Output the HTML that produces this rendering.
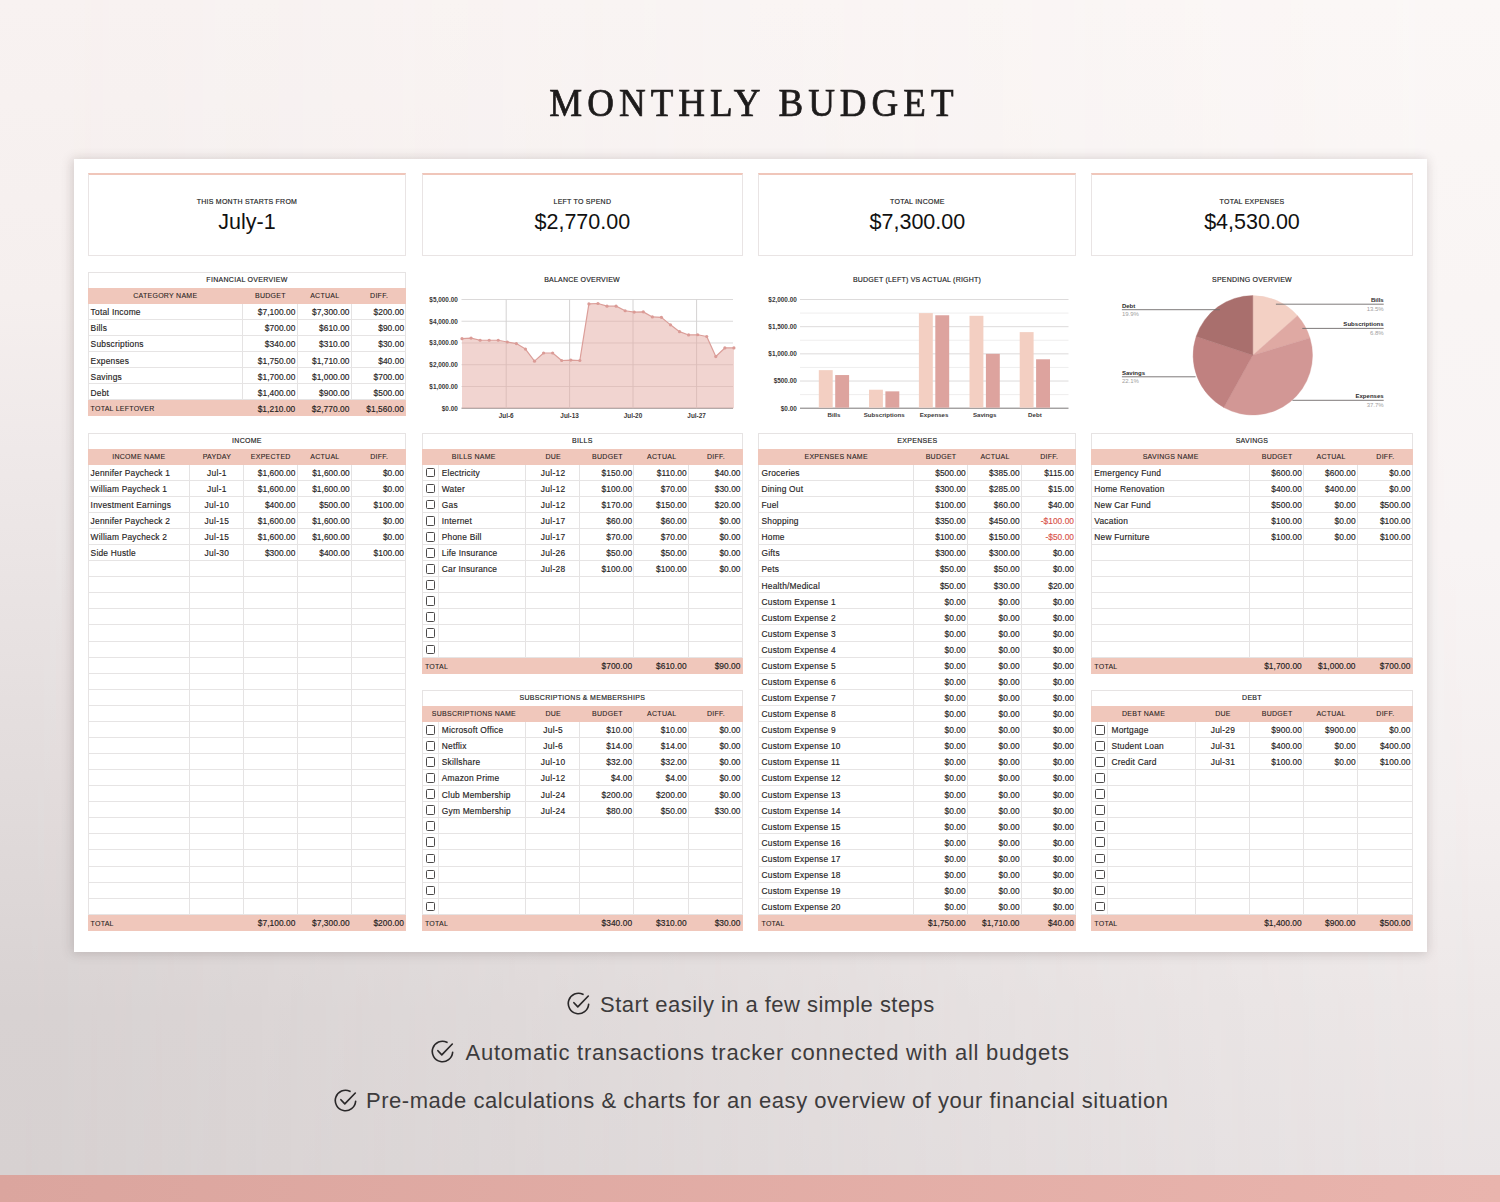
<!DOCTYPE html>
<html lang="en"><head><meta charset="utf-8"><title>Monthly Budget</title>
<style>
*{box-sizing:border-box;margin:0;padding:0}
html,body{width:1500px;height:1202px;overflow:hidden}
body{position:relative;font-family:"Liberation Sans",sans-serif;color:#1c1a1a;
 background:linear-gradient(180deg,#f8f2f1 0px,#f5efee 300px,#efe9e9 450px,#e9e3e3 600px,#ddd7d7 900px,#d8d2d2 1010px,#d7d1d1 1175px);}
.bgr{position:absolute;left:0;top:0;width:1500px;height:1202px;background:linear-gradient(180deg,#fbf7f6 0px,#f9f5f4 300px,#f8f4f4 550px,#f4efef 800px,#ede8e8 1000px,#e9e4e5 1175px);-webkit-mask-image:linear-gradient(90deg,rgba(0,0,0,0) 0%,#000 100%);mask-image:linear-gradient(90deg,rgba(0,0,0,0) 0%,#000 100%)}
.band{position:absolute;left:0;top:1175px;width:1500px;height:27px;background:linear-gradient(90deg,#dba59e,#e9b4ad)}
h1{position:absolute;left:0;top:79px;width:1500px;text-align:center;font-family:"Liberation Serif",serif;font-weight:400;
 font-size:37px;line-height:50px;letter-spacing:5px;padding-left:7.8px;color:#1d1b1b;-webkit-text-stroke:0.7px #1d1b1b;transform:scaleY(1.06);transform-origin:50% 37.5px}
.sheet{position:absolute;left:74px;top:159px;width:1353px;height:792.5px;background:#fff;
 box-shadow:-1.5px 1px 10px 1px rgba(100,85,85,.24)}
.abs{position:absolute}
.card{position:absolute;top:173px;height:83px;background:#fff;border:1px solid #e9e4e4;border-top:2px solid #f0c6ba;text-align:center}
.card .l{position:absolute;left:0;right:0;top:23.3px;font-size:7px;line-height:8px;letter-spacing:.25px;color:#222;-webkit-text-stroke:.15px #222}
.card .v{position:absolute;left:0;right:0;top:34.3px;font-size:21.5px;line-height:26px;color:#111}
.foot{position:absolute;font-size:22px;line-height:30px;color:#3d3b3c;white-space:nowrap}
svg{display:block}

.tbl{position:absolute;background:#fff;font-size:8.4px}
.fr{position:absolute;left:0;top:0;right:0;bottom:0;border:1px solid #e6e3e3;pointer-events:none}
.tr{position:absolute;left:0;right:0;display:flex;border-bottom:1px solid #e6e4e4;white-space:nowrap;overflow:hidden}
.tt{justify-content:center;align-items:center;font-size:7px;letter-spacing:.3px;color:#222;border-bottom:none;-webkit-text-stroke:.15px #222;padding-bottom:0}
.th{background:#f0c7bb;border-bottom:none;font-size:7px;letter-spacing:.27px;color:#2a2322;-webkit-text-stroke:.09px #2a2322}
.th i{font-style:normal;display:flex;align-items:center;justify-content:center;height:100%;flex:none;padding-bottom:0}
.c{font-weight:400;display:flex;align-items:center;height:100%;flex:none;padding-top:1.6px;color:#1f1d1d;letter-spacing:.04px;-webkit-text-stroke:.15px #1f1d1d}
.c.l{justify-content:flex-start;padding-left:3.1px;letter-spacing:.22px}
.c.m{justify-content:center;letter-spacing:.3px}
.c.r{justify-content:flex-end;padding-right:2.3px}
.c.neg{color:#d9544c;-webkit-text-stroke:.15px #d9544c}
.ck{justify-content:center;padding-left:.8px;padding-top:.6px}
.ck u{display:block;width:9.6px;height:9.6px;border:1px solid #4c4a4a;border-radius:1.5px;text-decoration:none;background:#fff}
.vl{position:absolute;width:1px;background:#e5e3e3}
.v0{background:#eae8e8}
.tot{background:#f0c7bb;border-bottom:none;padding-bottom:.8px}
.tot .c.r{padding-right:2.4px}
.tot .tl{font-size:7px;letter-spacing:.25px;-webkit-text-stroke:.08px #1f1d1d}

.ct{position:absolute;width:300px;text-align:center;font-size:7px;letter-spacing:.22px;color:#222;-webkit-text-stroke:.15px #222;display:flex;align-items:center;justify-content:center}
</style></head>
<body>
<div class="bgr"></div>
<h1>MONTHLY BUDGET</h1>
<div class="sheet"></div>
<div class="card" style="left:87.5px;width:318.9px"><div class="l">THIS MONTH STARTS FROM</div><div class="v">July-1</div></div>
<div class="card" style="left:421.8px;width:321.1px"><div class="l">LEFT TO SPEND</div><div class="v">$2,770.00</div></div>
<div class="card" style="left:758.4px;width:318.0px"><div class="l">TOTAL INCOME</div><div class="v">$7,300.00</div></div>
<div class="card" style="left:1091.2px;width:321.6px"><div class="l">TOTAL EXPENSES</div><div class="v">$4,530.00</div></div>
<div class="tbl" style="left:87.5px;top:271.8px;width:318.9px;height:144.68px"><div class="fr"></div>
<div class="vl" style="left:154.6px;top:32.15px;height:96.45px"></div>
<div class="vl" style="left:209.2px;top:32.15px;height:96.45px"></div>
<div class="vl" style="left:263.4px;top:32.15px;height:96.45px"></div>
<div class="tr tt" style="top:0;height:16.075px"><span>FINANCIAL OVERVIEW</span></div>
<div class="tr th" style="top:16.075px;height:16.075px">
<i style="width:155.6px">CATEGORY NAME</i>
<i style="width:54.6px">BUDGET</i>
<i style="width:54.2px">ACTUAL</i>
<i style="width:54.5px">DIFF.</i>
</div>
<div class="tr" style="top:32.15px;height:16.075px">
<b class="c l" style="width:155.6px">Total Income</b>
<b class="c r" style="width:54.6px">$7,100.00</b>
<b class="c r" style="width:54.2px">$7,300.00</b>
<b class="c r" style="width:54.5px">$200.00</b>
</div>
<div class="tr" style="top:48.22px;height:16.075px">
<b class="c l" style="width:155.6px">Bills</b>
<b class="c r" style="width:54.6px">$700.00</b>
<b class="c r" style="width:54.2px">$610.00</b>
<b class="c r" style="width:54.5px">$90.00</b>
</div>
<div class="tr" style="top:64.3px;height:16.075px">
<b class="c l" style="width:155.6px">Subscriptions</b>
<b class="c r" style="width:54.6px">$340.00</b>
<b class="c r" style="width:54.2px">$310.00</b>
<b class="c r" style="width:54.5px">$30.00</b>
</div>
<div class="tr" style="top:80.38px;height:16.075px">
<b class="c l" style="width:155.6px">Expenses</b>
<b class="c r" style="width:54.6px">$1,750.00</b>
<b class="c r" style="width:54.2px">$1,710.00</b>
<b class="c r" style="width:54.5px">$40.00</b>
</div>
<div class="tr" style="top:96.45px;height:16.075px">
<b class="c l" style="width:155.6px">Savings</b>
<b class="c r" style="width:54.6px">$1,700.00</b>
<b class="c r" style="width:54.2px">$1,000.00</b>
<b class="c r" style="width:54.5px">$700.00</b>
</div>
<div class="tr" style="top:112.52px;height:16.075px">
<b class="c l" style="width:155.6px">Debt</b>
<b class="c r" style="width:54.6px">$1,400.00</b>
<b class="c r" style="width:54.2px">$900.00</b>
<b class="c r" style="width:54.5px">$500.00</b>
</div>
<div class="tr tot" style="top:128.6px;height:16.075px">
<b class="c l tl" style="width:155.6px">TOTAL LEFTOVER</b>
<b class="c r" style="width:54.6px">$1,210.00</b>
<b class="c r" style="width:54.2px">$2,770.00</b>
<b class="c r" style="width:54.5px">$1,560.00</b>
</div></div>
<div class="tbl" style="left:87.5px;top:432.55px;width:318.9px;height:498.33px"><div class="fr"></div>
<div class="vl" style="left:101.6px;top:32.15px;height:450.1px"></div>
<div class="vl" style="left:155.2px;top:32.15px;height:450.1px"></div>
<div class="vl" style="left:209.3px;top:32.15px;height:450.1px"></div>
<div class="vl" style="left:263.6px;top:32.15px;height:450.1px"></div>
<div class="tr tt" style="top:0;height:16.075px"><span>INCOME</span></div>
<div class="tr th" style="top:16.075px;height:16.075px">
<i style="width:102.6px">INCOME NAME</i>
<i style="width:53.6px">PAYDAY</i>
<i style="width:54.1px">EXPECTED</i>
<i style="width:54.3px">ACTUAL</i>
<i style="width:54.3px">DIFF.</i>
</div>
<div class="tr" style="top:32.15px;height:16.075px">
<b class="c l" style="width:102.6px">Jennifer Paycheck 1</b>
<b class="c m" style="width:53.6px">Jul-1</b>
<b class="c r" style="width:54.1px">$1,600.00</b>
<b class="c r" style="width:54.3px">$1,600.00</b>
<b class="c r" style="width:54.3px">$0.00</b>
</div>
<div class="tr" style="top:48.22px;height:16.075px">
<b class="c l" style="width:102.6px">William Paycheck 1</b>
<b class="c m" style="width:53.6px">Jul-1</b>
<b class="c r" style="width:54.1px">$1,600.00</b>
<b class="c r" style="width:54.3px">$1,600.00</b>
<b class="c r" style="width:54.3px">$0.00</b>
</div>
<div class="tr" style="top:64.3px;height:16.075px">
<b class="c l" style="width:102.6px">Investment Earnings</b>
<b class="c m" style="width:53.6px">Jul-10</b>
<b class="c r" style="width:54.1px">$400.00</b>
<b class="c r" style="width:54.3px">$500.00</b>
<b class="c r" style="width:54.3px">$100.00</b>
</div>
<div class="tr" style="top:80.38px;height:16.075px">
<b class="c l" style="width:102.6px">Jennifer Paycheck 2</b>
<b class="c m" style="width:53.6px">Jul-15</b>
<b class="c r" style="width:54.1px">$1,600.00</b>
<b class="c r" style="width:54.3px">$1,600.00</b>
<b class="c r" style="width:54.3px">$0.00</b>
</div>
<div class="tr" style="top:96.45px;height:16.075px">
<b class="c l" style="width:102.6px">William Paycheck 2</b>
<b class="c m" style="width:53.6px">Jul-15</b>
<b class="c r" style="width:54.1px">$1,600.00</b>
<b class="c r" style="width:54.3px">$1,600.00</b>
<b class="c r" style="width:54.3px">$0.00</b>
</div>
<div class="tr" style="top:112.52px;height:16.075px">
<b class="c l" style="width:102.6px">Side Hustle</b>
<b class="c m" style="width:53.6px">Jul-30</b>
<b class="c r" style="width:54.1px">$300.00</b>
<b class="c r" style="width:54.3px">$400.00</b>
<b class="c r" style="width:54.3px">$100.00</b>
</div>
<div class="tr" style="top:128.6px;height:16.075px">
<b class="c l" style="width:102.6px"></b>
<b class="c m" style="width:53.6px"></b>
<b class="c r" style="width:54.1px"></b>
<b class="c r" style="width:54.3px"></b>
<b class="c r" style="width:54.3px"></b>
</div>
<div class="tr" style="top:144.67px;height:16.075px">
<b class="c l" style="width:102.6px"></b>
<b class="c m" style="width:53.6px"></b>
<b class="c r" style="width:54.1px"></b>
<b class="c r" style="width:54.3px"></b>
<b class="c r" style="width:54.3px"></b>
</div>
<div class="tr" style="top:160.75px;height:16.075px">
<b class="c l" style="width:102.6px"></b>
<b class="c m" style="width:53.6px"></b>
<b class="c r" style="width:54.1px"></b>
<b class="c r" style="width:54.3px"></b>
<b class="c r" style="width:54.3px"></b>
</div>
<div class="tr" style="top:176.82px;height:16.075px">
<b class="c l" style="width:102.6px"></b>
<b class="c m" style="width:53.6px"></b>
<b class="c r" style="width:54.1px"></b>
<b class="c r" style="width:54.3px"></b>
<b class="c r" style="width:54.3px"></b>
</div>
<div class="tr" style="top:192.9px;height:16.075px">
<b class="c l" style="width:102.6px"></b>
<b class="c m" style="width:53.6px"></b>
<b class="c r" style="width:54.1px"></b>
<b class="c r" style="width:54.3px"></b>
<b class="c r" style="width:54.3px"></b>
</div>
<div class="tr" style="top:208.97px;height:16.075px">
<b class="c l" style="width:102.6px"></b>
<b class="c m" style="width:53.6px"></b>
<b class="c r" style="width:54.1px"></b>
<b class="c r" style="width:54.3px"></b>
<b class="c r" style="width:54.3px"></b>
</div>
<div class="tr" style="top:225.05px;height:16.075px">
<b class="c l" style="width:102.6px"></b>
<b class="c m" style="width:53.6px"></b>
<b class="c r" style="width:54.1px"></b>
<b class="c r" style="width:54.3px"></b>
<b class="c r" style="width:54.3px"></b>
</div>
<div class="tr" style="top:241.12px;height:16.075px">
<b class="c l" style="width:102.6px"></b>
<b class="c m" style="width:53.6px"></b>
<b class="c r" style="width:54.1px"></b>
<b class="c r" style="width:54.3px"></b>
<b class="c r" style="width:54.3px"></b>
</div>
<div class="tr" style="top:257.2px;height:16.075px">
<b class="c l" style="width:102.6px"></b>
<b class="c m" style="width:53.6px"></b>
<b class="c r" style="width:54.1px"></b>
<b class="c r" style="width:54.3px"></b>
<b class="c r" style="width:54.3px"></b>
</div>
<div class="tr" style="top:273.27px;height:16.075px">
<b class="c l" style="width:102.6px"></b>
<b class="c m" style="width:53.6px"></b>
<b class="c r" style="width:54.1px"></b>
<b class="c r" style="width:54.3px"></b>
<b class="c r" style="width:54.3px"></b>
</div>
<div class="tr" style="top:289.35px;height:16.075px">
<b class="c l" style="width:102.6px"></b>
<b class="c m" style="width:53.6px"></b>
<b class="c r" style="width:54.1px"></b>
<b class="c r" style="width:54.3px"></b>
<b class="c r" style="width:54.3px"></b>
</div>
<div class="tr" style="top:305.43px;height:16.075px">
<b class="c l" style="width:102.6px"></b>
<b class="c m" style="width:53.6px"></b>
<b class="c r" style="width:54.1px"></b>
<b class="c r" style="width:54.3px"></b>
<b class="c r" style="width:54.3px"></b>
</div>
<div class="tr" style="top:321.5px;height:16.075px">
<b class="c l" style="width:102.6px"></b>
<b class="c m" style="width:53.6px"></b>
<b class="c r" style="width:54.1px"></b>
<b class="c r" style="width:54.3px"></b>
<b class="c r" style="width:54.3px"></b>
</div>
<div class="tr" style="top:337.57px;height:16.075px">
<b class="c l" style="width:102.6px"></b>
<b class="c m" style="width:53.6px"></b>
<b class="c r" style="width:54.1px"></b>
<b class="c r" style="width:54.3px"></b>
<b class="c r" style="width:54.3px"></b>
</div>
<div class="tr" style="top:353.65px;height:16.075px">
<b class="c l" style="width:102.6px"></b>
<b class="c m" style="width:53.6px"></b>
<b class="c r" style="width:54.1px"></b>
<b class="c r" style="width:54.3px"></b>
<b class="c r" style="width:54.3px"></b>
</div>
<div class="tr" style="top:369.72px;height:16.075px">
<b class="c l" style="width:102.6px"></b>
<b class="c m" style="width:53.6px"></b>
<b class="c r" style="width:54.1px"></b>
<b class="c r" style="width:54.3px"></b>
<b class="c r" style="width:54.3px"></b>
</div>
<div class="tr" style="top:385.8px;height:16.075px">
<b class="c l" style="width:102.6px"></b>
<b class="c m" style="width:53.6px"></b>
<b class="c r" style="width:54.1px"></b>
<b class="c r" style="width:54.3px"></b>
<b class="c r" style="width:54.3px"></b>
</div>
<div class="tr" style="top:401.88px;height:16.075px">
<b class="c l" style="width:102.6px"></b>
<b class="c m" style="width:53.6px"></b>
<b class="c r" style="width:54.1px"></b>
<b class="c r" style="width:54.3px"></b>
<b class="c r" style="width:54.3px"></b>
</div>
<div class="tr" style="top:417.95px;height:16.075px">
<b class="c l" style="width:102.6px"></b>
<b class="c m" style="width:53.6px"></b>
<b class="c r" style="width:54.1px"></b>
<b class="c r" style="width:54.3px"></b>
<b class="c r" style="width:54.3px"></b>
</div>
<div class="tr" style="top:434.02px;height:16.075px">
<b class="c l" style="width:102.6px"></b>
<b class="c m" style="width:53.6px"></b>
<b class="c r" style="width:54.1px"></b>
<b class="c r" style="width:54.3px"></b>
<b class="c r" style="width:54.3px"></b>
</div>
<div class="tr" style="top:450.1px;height:16.075px">
<b class="c l" style="width:102.6px"></b>
<b class="c m" style="width:53.6px"></b>
<b class="c r" style="width:54.1px"></b>
<b class="c r" style="width:54.3px"></b>
<b class="c r" style="width:54.3px"></b>
</div>
<div class="tr" style="top:466.17px;height:16.075px">
<b class="c l" style="width:102.6px"></b>
<b class="c m" style="width:53.6px"></b>
<b class="c r" style="width:54.1px"></b>
<b class="c r" style="width:54.3px"></b>
<b class="c r" style="width:54.3px"></b>
</div>
<div class="tr tot" style="top:482.25px;height:16.075px">
<b class="c l tl" style="width:102.6px">TOTAL</b>
<b class="c m" style="width:53.6px"></b>
<b class="c r" style="width:54.1px">$7,100.00</b>
<b class="c r" style="width:54.3px">$7,300.00</b>
<b class="c r" style="width:54.3px">$200.00</b>
</div></div>
<div class="tbl" style="left:421.8px;top:432.55px;width:321.1px;height:241.12px"><div class="fr"></div>
<div class="vl v0" style="left:15.9px;top:32.15px;height:192.9px"></div>
<div class="vl" style="left:103.1px;top:32.15px;height:192.9px"></div>
<div class="vl" style="left:157.7px;top:32.15px;height:192.9px"></div>
<div class="vl" style="left:211.7px;top:32.15px;height:192.9px"></div>
<div class="vl" style="left:266.2px;top:32.15px;height:192.9px"></div>
<div class="tr tt" style="top:0;height:16.075px"><span>BILLS</span></div>
<div class="tr th" style="top:16.075px;height:16.075px">
<i style="width:104.1px">BILLS NAME</i>
<i style="width:54.6px">DUE</i>
<i style="width:54.0px">BUDGET</i>
<i style="width:54.5px">ACTUAL</i>
<i style="width:53.9px">DIFF.</i>
</div>
<div class="tr" style="top:32.15px;height:16.075px">
<b class="c ck" style="width:16.9px"><u></u></b>
<b class="c l" style="width:87.2px">Electricity</b>
<b class="c m" style="width:54.6px">Jul-12</b>
<b class="c r" style="width:54.0px">$150.00</b>
<b class="c r" style="width:54.5px">$110.00</b>
<b class="c r" style="width:53.9px">$40.00</b>
</div>
<div class="tr" style="top:48.22px;height:16.075px">
<b class="c ck" style="width:16.9px"><u></u></b>
<b class="c l" style="width:87.2px">Water</b>
<b class="c m" style="width:54.6px">Jul-12</b>
<b class="c r" style="width:54.0px">$100.00</b>
<b class="c r" style="width:54.5px">$70.00</b>
<b class="c r" style="width:53.9px">$30.00</b>
</div>
<div class="tr" style="top:64.3px;height:16.075px">
<b class="c ck" style="width:16.9px"><u></u></b>
<b class="c l" style="width:87.2px">Gas</b>
<b class="c m" style="width:54.6px">Jul-12</b>
<b class="c r" style="width:54.0px">$170.00</b>
<b class="c r" style="width:54.5px">$150.00</b>
<b class="c r" style="width:53.9px">$20.00</b>
</div>
<div class="tr" style="top:80.38px;height:16.075px">
<b class="c ck" style="width:16.9px"><u></u></b>
<b class="c l" style="width:87.2px">Internet</b>
<b class="c m" style="width:54.6px">Jul-17</b>
<b class="c r" style="width:54.0px">$60.00</b>
<b class="c r" style="width:54.5px">$60.00</b>
<b class="c r" style="width:53.9px">$0.00</b>
</div>
<div class="tr" style="top:96.45px;height:16.075px">
<b class="c ck" style="width:16.9px"><u></u></b>
<b class="c l" style="width:87.2px">Phone Bill</b>
<b class="c m" style="width:54.6px">Jul-17</b>
<b class="c r" style="width:54.0px">$70.00</b>
<b class="c r" style="width:54.5px">$70.00</b>
<b class="c r" style="width:53.9px">$0.00</b>
</div>
<div class="tr" style="top:112.52px;height:16.075px">
<b class="c ck" style="width:16.9px"><u></u></b>
<b class="c l" style="width:87.2px">Life Insurance</b>
<b class="c m" style="width:54.6px">Jul-26</b>
<b class="c r" style="width:54.0px">$50.00</b>
<b class="c r" style="width:54.5px">$50.00</b>
<b class="c r" style="width:53.9px">$0.00</b>
</div>
<div class="tr" style="top:128.6px;height:16.075px">
<b class="c ck" style="width:16.9px"><u></u></b>
<b class="c l" style="width:87.2px">Car Insurance</b>
<b class="c m" style="width:54.6px">Jul-28</b>
<b class="c r" style="width:54.0px">$100.00</b>
<b class="c r" style="width:54.5px">$100.00</b>
<b class="c r" style="width:53.9px">$0.00</b>
</div>
<div class="tr" style="top:144.67px;height:16.075px">
<b class="c ck" style="width:16.9px"><u></u></b>
<b class="c l" style="width:87.2px"></b>
<b class="c m" style="width:54.6px"></b>
<b class="c r" style="width:54.0px"></b>
<b class="c r" style="width:54.5px"></b>
<b class="c r" style="width:53.9px"></b>
</div>
<div class="tr" style="top:160.75px;height:16.075px">
<b class="c ck" style="width:16.9px"><u></u></b>
<b class="c l" style="width:87.2px"></b>
<b class="c m" style="width:54.6px"></b>
<b class="c r" style="width:54.0px"></b>
<b class="c r" style="width:54.5px"></b>
<b class="c r" style="width:53.9px"></b>
</div>
<div class="tr" style="top:176.82px;height:16.075px">
<b class="c ck" style="width:16.9px"><u></u></b>
<b class="c l" style="width:87.2px"></b>
<b class="c m" style="width:54.6px"></b>
<b class="c r" style="width:54.0px"></b>
<b class="c r" style="width:54.5px"></b>
<b class="c r" style="width:53.9px"></b>
</div>
<div class="tr" style="top:192.9px;height:16.075px">
<b class="c ck" style="width:16.9px"><u></u></b>
<b class="c l" style="width:87.2px"></b>
<b class="c m" style="width:54.6px"></b>
<b class="c r" style="width:54.0px"></b>
<b class="c r" style="width:54.5px"></b>
<b class="c r" style="width:53.9px"></b>
</div>
<div class="tr" style="top:208.97px;height:16.075px">
<b class="c ck" style="width:16.9px"><u></u></b>
<b class="c l" style="width:87.2px"></b>
<b class="c m" style="width:54.6px"></b>
<b class="c r" style="width:54.0px"></b>
<b class="c r" style="width:54.5px"></b>
<b class="c r" style="width:53.9px"></b>
</div>
<div class="tr tot" style="top:225.05px;height:16.075px">
<b class="c l tl" style="width:104.1px">TOTAL</b>
<b class="c m" style="width:54.6px"></b>
<b class="c r" style="width:54.0px">$700.00</b>
<b class="c r" style="width:54.5px">$610.00</b>
<b class="c r" style="width:53.9px">$90.00</b>
</div></div>
<div class="tbl" style="left:421.8px;top:689.75px;width:321.1px;height:241.13px"><div class="fr"></div>
<div class="vl v0" style="left:15.9px;top:32.15px;height:192.9px"></div>
<div class="vl" style="left:103.1px;top:32.15px;height:192.9px"></div>
<div class="vl" style="left:157.7px;top:32.15px;height:192.9px"></div>
<div class="vl" style="left:211.7px;top:32.15px;height:192.9px"></div>
<div class="vl" style="left:266.2px;top:32.15px;height:192.9px"></div>
<div class="tr tt" style="top:0;height:16.075px"><span>SUBSCRIPTIONS &amp; MEMBERSHIPS</span></div>
<div class="tr th" style="top:16.075px;height:16.075px">
<i style="width:104.1px">SUBSCRIPTIONS NAME</i>
<i style="width:54.6px">DUE</i>
<i style="width:54.0px">BUDGET</i>
<i style="width:54.5px">ACTUAL</i>
<i style="width:53.9px">DIFF.</i>
</div>
<div class="tr" style="top:32.15px;height:16.075px">
<b class="c ck" style="width:16.9px"><u></u></b>
<b class="c l" style="width:87.2px">Microsoft Office</b>
<b class="c m" style="width:54.6px">Jul-5</b>
<b class="c r" style="width:54.0px">$10.00</b>
<b class="c r" style="width:54.5px">$10.00</b>
<b class="c r" style="width:53.9px">$0.00</b>
</div>
<div class="tr" style="top:48.22px;height:16.075px">
<b class="c ck" style="width:16.9px"><u></u></b>
<b class="c l" style="width:87.2px">Netflix</b>
<b class="c m" style="width:54.6px">Jul-6</b>
<b class="c r" style="width:54.0px">$14.00</b>
<b class="c r" style="width:54.5px">$14.00</b>
<b class="c r" style="width:53.9px">$0.00</b>
</div>
<div class="tr" style="top:64.3px;height:16.075px">
<b class="c ck" style="width:16.9px"><u></u></b>
<b class="c l" style="width:87.2px">Skillshare</b>
<b class="c m" style="width:54.6px">Jul-10</b>
<b class="c r" style="width:54.0px">$32.00</b>
<b class="c r" style="width:54.5px">$32.00</b>
<b class="c r" style="width:53.9px">$0.00</b>
</div>
<div class="tr" style="top:80.38px;height:16.075px">
<b class="c ck" style="width:16.9px"><u></u></b>
<b class="c l" style="width:87.2px">Amazon Prime</b>
<b class="c m" style="width:54.6px">Jul-12</b>
<b class="c r" style="width:54.0px">$4.00</b>
<b class="c r" style="width:54.5px">$4.00</b>
<b class="c r" style="width:53.9px">$0.00</b>
</div>
<div class="tr" style="top:96.45px;height:16.075px">
<b class="c ck" style="width:16.9px"><u></u></b>
<b class="c l" style="width:87.2px">Club Membership</b>
<b class="c m" style="width:54.6px">Jul-24</b>
<b class="c r" style="width:54.0px">$200.00</b>
<b class="c r" style="width:54.5px">$200.00</b>
<b class="c r" style="width:53.9px">$0.00</b>
</div>
<div class="tr" style="top:112.52px;height:16.075px">
<b class="c ck" style="width:16.9px"><u></u></b>
<b class="c l" style="width:87.2px">Gym Membership</b>
<b class="c m" style="width:54.6px">Jul-24</b>
<b class="c r" style="width:54.0px">$80.00</b>
<b class="c r" style="width:54.5px">$50.00</b>
<b class="c r" style="width:53.9px">$30.00</b>
</div>
<div class="tr" style="top:128.6px;height:16.075px">
<b class="c ck" style="width:16.9px"><u></u></b>
<b class="c l" style="width:87.2px"></b>
<b class="c m" style="width:54.6px"></b>
<b class="c r" style="width:54.0px"></b>
<b class="c r" style="width:54.5px"></b>
<b class="c r" style="width:53.9px"></b>
</div>
<div class="tr" style="top:144.67px;height:16.075px">
<b class="c ck" style="width:16.9px"><u></u></b>
<b class="c l" style="width:87.2px"></b>
<b class="c m" style="width:54.6px"></b>
<b class="c r" style="width:54.0px"></b>
<b class="c r" style="width:54.5px"></b>
<b class="c r" style="width:53.9px"></b>
</div>
<div class="tr" style="top:160.75px;height:16.075px">
<b class="c ck" style="width:16.9px"><u></u></b>
<b class="c l" style="width:87.2px"></b>
<b class="c m" style="width:54.6px"></b>
<b class="c r" style="width:54.0px"></b>
<b class="c r" style="width:54.5px"></b>
<b class="c r" style="width:53.9px"></b>
</div>
<div class="tr" style="top:176.82px;height:16.075px">
<b class="c ck" style="width:16.9px"><u></u></b>
<b class="c l" style="width:87.2px"></b>
<b class="c m" style="width:54.6px"></b>
<b class="c r" style="width:54.0px"></b>
<b class="c r" style="width:54.5px"></b>
<b class="c r" style="width:53.9px"></b>
</div>
<div class="tr" style="top:192.9px;height:16.075px">
<b class="c ck" style="width:16.9px"><u></u></b>
<b class="c l" style="width:87.2px"></b>
<b class="c m" style="width:54.6px"></b>
<b class="c r" style="width:54.0px"></b>
<b class="c r" style="width:54.5px"></b>
<b class="c r" style="width:53.9px"></b>
</div>
<div class="tr" style="top:208.97px;height:16.075px">
<b class="c ck" style="width:16.9px"><u></u></b>
<b class="c l" style="width:87.2px"></b>
<b class="c m" style="width:54.6px"></b>
<b class="c r" style="width:54.0px"></b>
<b class="c r" style="width:54.5px"></b>
<b class="c r" style="width:53.9px"></b>
</div>
<div class="tr tot" style="top:225.05px;height:16.075px">
<b class="c l tl" style="width:104.1px">TOTAL</b>
<b class="c m" style="width:54.6px"></b>
<b class="c r" style="width:54.0px">$340.00</b>
<b class="c r" style="width:54.5px">$310.00</b>
<b class="c r" style="width:53.9px">$30.00</b>
</div></div>
<div class="tbl" style="left:758.4px;top:432.55px;width:318.0px;height:498.33px"><div class="fr"></div>
<div class="vl" style="left:154.6px;top:32.15px;height:450.1px"></div>
<div class="vl" style="left:208.7px;top:32.15px;height:450.1px"></div>
<div class="vl" style="left:262.6px;top:32.15px;height:450.1px"></div>
<div class="tr tt" style="top:0;height:16.075px"><span>EXPENSES</span></div>
<div class="tr th" style="top:16.075px;height:16.075px">
<i style="width:155.6px">EXPENSES NAME</i>
<i style="width:54.1px">BUDGET</i>
<i style="width:53.9px">ACTUAL</i>
<i style="width:54.4px">DIFF.</i>
</div>
<div class="tr" style="top:32.15px;height:16.075px">
<b class="c l" style="width:155.6px">Groceries</b>
<b class="c r" style="width:54.1px">$500.00</b>
<b class="c r" style="width:53.9px">$385.00</b>
<b class="c r" style="width:54.4px">$115.00</b>
</div>
<div class="tr" style="top:48.22px;height:16.075px">
<b class="c l" style="width:155.6px">Dining Out</b>
<b class="c r" style="width:54.1px">$300.00</b>
<b class="c r" style="width:53.9px">$285.00</b>
<b class="c r" style="width:54.4px">$15.00</b>
</div>
<div class="tr" style="top:64.3px;height:16.075px">
<b class="c l" style="width:155.6px">Fuel</b>
<b class="c r" style="width:54.1px">$100.00</b>
<b class="c r" style="width:53.9px">$60.00</b>
<b class="c r" style="width:54.4px">$40.00</b>
</div>
<div class="tr" style="top:80.38px;height:16.075px">
<b class="c l" style="width:155.6px">Shopping</b>
<b class="c r" style="width:54.1px">$350.00</b>
<b class="c r" style="width:53.9px">$450.00</b>
<b class="c r neg" style="width:54.4px">-$100.00</b>
</div>
<div class="tr" style="top:96.45px;height:16.075px">
<b class="c l" style="width:155.6px">Home</b>
<b class="c r" style="width:54.1px">$100.00</b>
<b class="c r" style="width:53.9px">$150.00</b>
<b class="c r neg" style="width:54.4px">-$50.00</b>
</div>
<div class="tr" style="top:112.52px;height:16.075px">
<b class="c l" style="width:155.6px">Gifts</b>
<b class="c r" style="width:54.1px">$300.00</b>
<b class="c r" style="width:53.9px">$300.00</b>
<b class="c r" style="width:54.4px">$0.00</b>
</div>
<div class="tr" style="top:128.6px;height:16.075px">
<b class="c l" style="width:155.6px">Pets</b>
<b class="c r" style="width:54.1px">$50.00</b>
<b class="c r" style="width:53.9px">$50.00</b>
<b class="c r" style="width:54.4px">$0.00</b>
</div>
<div class="tr" style="top:144.67px;height:16.075px">
<b class="c l" style="width:155.6px">Health/Medical</b>
<b class="c r" style="width:54.1px">$50.00</b>
<b class="c r" style="width:53.9px">$30.00</b>
<b class="c r" style="width:54.4px">$20.00</b>
</div>
<div class="tr" style="top:160.75px;height:16.075px">
<b class="c l" style="width:155.6px">Custom Expense 1</b>
<b class="c r" style="width:54.1px">$0.00</b>
<b class="c r" style="width:53.9px">$0.00</b>
<b class="c r" style="width:54.4px">$0.00</b>
</div>
<div class="tr" style="top:176.82px;height:16.075px">
<b class="c l" style="width:155.6px">Custom Expense 2</b>
<b class="c r" style="width:54.1px">$0.00</b>
<b class="c r" style="width:53.9px">$0.00</b>
<b class="c r" style="width:54.4px">$0.00</b>
</div>
<div class="tr" style="top:192.9px;height:16.075px">
<b class="c l" style="width:155.6px">Custom Expense 3</b>
<b class="c r" style="width:54.1px">$0.00</b>
<b class="c r" style="width:53.9px">$0.00</b>
<b class="c r" style="width:54.4px">$0.00</b>
</div>
<div class="tr" style="top:208.97px;height:16.075px">
<b class="c l" style="width:155.6px">Custom Expense 4</b>
<b class="c r" style="width:54.1px">$0.00</b>
<b class="c r" style="width:53.9px">$0.00</b>
<b class="c r" style="width:54.4px">$0.00</b>
</div>
<div class="tr" style="top:225.05px;height:16.075px">
<b class="c l" style="width:155.6px">Custom Expense 5</b>
<b class="c r" style="width:54.1px">$0.00</b>
<b class="c r" style="width:53.9px">$0.00</b>
<b class="c r" style="width:54.4px">$0.00</b>
</div>
<div class="tr" style="top:241.12px;height:16.075px">
<b class="c l" style="width:155.6px">Custom Expense 6</b>
<b class="c r" style="width:54.1px">$0.00</b>
<b class="c r" style="width:53.9px">$0.00</b>
<b class="c r" style="width:54.4px">$0.00</b>
</div>
<div class="tr" style="top:257.2px;height:16.075px">
<b class="c l" style="width:155.6px">Custom Expense 7</b>
<b class="c r" style="width:54.1px">$0.00</b>
<b class="c r" style="width:53.9px">$0.00</b>
<b class="c r" style="width:54.4px">$0.00</b>
</div>
<div class="tr" style="top:273.27px;height:16.075px">
<b class="c l" style="width:155.6px">Custom Expense 8</b>
<b class="c r" style="width:54.1px">$0.00</b>
<b class="c r" style="width:53.9px">$0.00</b>
<b class="c r" style="width:54.4px">$0.00</b>
</div>
<div class="tr" style="top:289.35px;height:16.075px">
<b class="c l" style="width:155.6px">Custom Expense 9</b>
<b class="c r" style="width:54.1px">$0.00</b>
<b class="c r" style="width:53.9px">$0.00</b>
<b class="c r" style="width:54.4px">$0.00</b>
</div>
<div class="tr" style="top:305.43px;height:16.075px">
<b class="c l" style="width:155.6px">Custom Expense 10</b>
<b class="c r" style="width:54.1px">$0.00</b>
<b class="c r" style="width:53.9px">$0.00</b>
<b class="c r" style="width:54.4px">$0.00</b>
</div>
<div class="tr" style="top:321.5px;height:16.075px">
<b class="c l" style="width:155.6px">Custom Expense 11</b>
<b class="c r" style="width:54.1px">$0.00</b>
<b class="c r" style="width:53.9px">$0.00</b>
<b class="c r" style="width:54.4px">$0.00</b>
</div>
<div class="tr" style="top:337.57px;height:16.075px">
<b class="c l" style="width:155.6px">Custom Expense 12</b>
<b class="c r" style="width:54.1px">$0.00</b>
<b class="c r" style="width:53.9px">$0.00</b>
<b class="c r" style="width:54.4px">$0.00</b>
</div>
<div class="tr" style="top:353.65px;height:16.075px">
<b class="c l" style="width:155.6px">Custom Expense 13</b>
<b class="c r" style="width:54.1px">$0.00</b>
<b class="c r" style="width:53.9px">$0.00</b>
<b class="c r" style="width:54.4px">$0.00</b>
</div>
<div class="tr" style="top:369.72px;height:16.075px">
<b class="c l" style="width:155.6px">Custom Expense 14</b>
<b class="c r" style="width:54.1px">$0.00</b>
<b class="c r" style="width:53.9px">$0.00</b>
<b class="c r" style="width:54.4px">$0.00</b>
</div>
<div class="tr" style="top:385.8px;height:16.075px">
<b class="c l" style="width:155.6px">Custom Expense 15</b>
<b class="c r" style="width:54.1px">$0.00</b>
<b class="c r" style="width:53.9px">$0.00</b>
<b class="c r" style="width:54.4px">$0.00</b>
</div>
<div class="tr" style="top:401.88px;height:16.075px">
<b class="c l" style="width:155.6px">Custom Expense 16</b>
<b class="c r" style="width:54.1px">$0.00</b>
<b class="c r" style="width:53.9px">$0.00</b>
<b class="c r" style="width:54.4px">$0.00</b>
</div>
<div class="tr" style="top:417.95px;height:16.075px">
<b class="c l" style="width:155.6px">Custom Expense 17</b>
<b class="c r" style="width:54.1px">$0.00</b>
<b class="c r" style="width:53.9px">$0.00</b>
<b class="c r" style="width:54.4px">$0.00</b>
</div>
<div class="tr" style="top:434.02px;height:16.075px">
<b class="c l" style="width:155.6px">Custom Expense 18</b>
<b class="c r" style="width:54.1px">$0.00</b>
<b class="c r" style="width:53.9px">$0.00</b>
<b class="c r" style="width:54.4px">$0.00</b>
</div>
<div class="tr" style="top:450.1px;height:16.075px">
<b class="c l" style="width:155.6px">Custom Expense 19</b>
<b class="c r" style="width:54.1px">$0.00</b>
<b class="c r" style="width:53.9px">$0.00</b>
<b class="c r" style="width:54.4px">$0.00</b>
</div>
<div class="tr" style="top:466.17px;height:16.075px">
<b class="c l" style="width:155.6px">Custom Expense 20</b>
<b class="c r" style="width:54.1px">$0.00</b>
<b class="c r" style="width:53.9px">$0.00</b>
<b class="c r" style="width:54.4px">$0.00</b>
</div>
<div class="tr tot" style="top:482.25px;height:16.075px">
<b class="c l tl" style="width:155.6px">TOTAL</b>
<b class="c r" style="width:54.1px">$1,750.00</b>
<b class="c r" style="width:53.9px">$1,710.00</b>
<b class="c r" style="width:54.4px">$40.00</b>
</div></div>
<div class="tbl" style="left:1091.2px;top:432.55px;width:321.6px;height:241.12px"><div class="fr"></div>
<div class="vl" style="left:157.9px;top:32.15px;height:192.9px"></div>
<div class="vl" style="left:212.0px;top:32.15px;height:192.9px"></div>
<div class="vl" style="left:265.8px;top:32.15px;height:192.9px"></div>
<div class="tr tt" style="top:0;height:16.075px"><span>SAVINGS</span></div>
<div class="tr th" style="top:16.075px;height:16.075px">
<i style="width:158.9px">SAVINGS NAME</i>
<i style="width:54.1px">BUDGET</i>
<i style="width:53.8px">ACTUAL</i>
<i style="width:54.8px">DIFF.</i>
</div>
<div class="tr" style="top:32.15px;height:16.075px">
<b class="c l" style="width:158.9px">Emergency Fund</b>
<b class="c r" style="width:54.1px">$600.00</b>
<b class="c r" style="width:53.8px">$600.00</b>
<b class="c r" style="width:54.8px">$0.00</b>
</div>
<div class="tr" style="top:48.22px;height:16.075px">
<b class="c l" style="width:158.9px">Home Renovation</b>
<b class="c r" style="width:54.1px">$400.00</b>
<b class="c r" style="width:53.8px">$400.00</b>
<b class="c r" style="width:54.8px">$0.00</b>
</div>
<div class="tr" style="top:64.3px;height:16.075px">
<b class="c l" style="width:158.9px">New Car Fund</b>
<b class="c r" style="width:54.1px">$500.00</b>
<b class="c r" style="width:53.8px">$0.00</b>
<b class="c r" style="width:54.8px">$500.00</b>
</div>
<div class="tr" style="top:80.38px;height:16.075px">
<b class="c l" style="width:158.9px">Vacation</b>
<b class="c r" style="width:54.1px">$100.00</b>
<b class="c r" style="width:53.8px">$0.00</b>
<b class="c r" style="width:54.8px">$100.00</b>
</div>
<div class="tr" style="top:96.45px;height:16.075px">
<b class="c l" style="width:158.9px">New Furniture</b>
<b class="c r" style="width:54.1px">$100.00</b>
<b class="c r" style="width:53.8px">$0.00</b>
<b class="c r" style="width:54.8px">$100.00</b>
</div>
<div class="tr" style="top:112.52px;height:16.075px">
<b class="c l" style="width:158.9px"></b>
<b class="c r" style="width:54.1px"></b>
<b class="c r" style="width:53.8px"></b>
<b class="c r" style="width:54.8px"></b>
</div>
<div class="tr" style="top:128.6px;height:16.075px">
<b class="c l" style="width:158.9px"></b>
<b class="c r" style="width:54.1px"></b>
<b class="c r" style="width:53.8px"></b>
<b class="c r" style="width:54.8px"></b>
</div>
<div class="tr" style="top:144.67px;height:16.075px">
<b class="c l" style="width:158.9px"></b>
<b class="c r" style="width:54.1px"></b>
<b class="c r" style="width:53.8px"></b>
<b class="c r" style="width:54.8px"></b>
</div>
<div class="tr" style="top:160.75px;height:16.075px">
<b class="c l" style="width:158.9px"></b>
<b class="c r" style="width:54.1px"></b>
<b class="c r" style="width:53.8px"></b>
<b class="c r" style="width:54.8px"></b>
</div>
<div class="tr" style="top:176.82px;height:16.075px">
<b class="c l" style="width:158.9px"></b>
<b class="c r" style="width:54.1px"></b>
<b class="c r" style="width:53.8px"></b>
<b class="c r" style="width:54.8px"></b>
</div>
<div class="tr" style="top:192.9px;height:16.075px">
<b class="c l" style="width:158.9px"></b>
<b class="c r" style="width:54.1px"></b>
<b class="c r" style="width:53.8px"></b>
<b class="c r" style="width:54.8px"></b>
</div>
<div class="tr" style="top:208.97px;height:16.075px">
<b class="c l" style="width:158.9px"></b>
<b class="c r" style="width:54.1px"></b>
<b class="c r" style="width:53.8px"></b>
<b class="c r" style="width:54.8px"></b>
</div>
<div class="tr tot" style="top:225.05px;height:16.075px">
<b class="c l tl" style="width:158.9px">TOTAL</b>
<b class="c r" style="width:54.1px">$1,700.00</b>
<b class="c r" style="width:53.8px">$1,000.00</b>
<b class="c r" style="width:54.8px">$700.00</b>
</div></div>
<div class="tbl" style="left:1091.2px;top:689.75px;width:321.6px;height:241.13px"><div class="fr"></div>
<div class="vl v0" style="left:16.2px;top:32.15px;height:192.9px"></div>
<div class="vl" style="left:103.7px;top:32.15px;height:192.9px"></div>
<div class="vl" style="left:157.9px;top:32.15px;height:192.9px"></div>
<div class="vl" style="left:212.0px;top:32.15px;height:192.9px"></div>
<div class="vl" style="left:265.8px;top:32.15px;height:192.9px"></div>
<div class="tr tt" style="top:0;height:16.075px"><span>DEBT</span></div>
<div class="tr th" style="top:16.075px;height:16.075px">
<i style="width:104.7px">DEBT NAME</i>
<i style="width:54.2px">DUE</i>
<i style="width:54.1px">BUDGET</i>
<i style="width:53.8px">ACTUAL</i>
<i style="width:54.8px">DIFF.</i>
</div>
<div class="tr" style="top:32.15px;height:16.075px">
<b class="c ck" style="width:17.2px"><u></u></b>
<b class="c l" style="width:87.5px">Mortgage</b>
<b class="c m" style="width:54.2px">Jul-29</b>
<b class="c r" style="width:54.1px">$900.00</b>
<b class="c r" style="width:53.8px">$900.00</b>
<b class="c r" style="width:54.8px">$0.00</b>
</div>
<div class="tr" style="top:48.22px;height:16.075px">
<b class="c ck" style="width:17.2px"><u></u></b>
<b class="c l" style="width:87.5px">Student Loan</b>
<b class="c m" style="width:54.2px">Jul-31</b>
<b class="c r" style="width:54.1px">$400.00</b>
<b class="c r" style="width:53.8px">$0.00</b>
<b class="c r" style="width:54.8px">$400.00</b>
</div>
<div class="tr" style="top:64.3px;height:16.075px">
<b class="c ck" style="width:17.2px"><u></u></b>
<b class="c l" style="width:87.5px">Credit Card</b>
<b class="c m" style="width:54.2px">Jul-31</b>
<b class="c r" style="width:54.1px">$100.00</b>
<b class="c r" style="width:53.8px">$0.00</b>
<b class="c r" style="width:54.8px">$100.00</b>
</div>
<div class="tr" style="top:80.38px;height:16.075px">
<b class="c ck" style="width:17.2px"><u></u></b>
<b class="c l" style="width:87.5px"></b>
<b class="c m" style="width:54.2px"></b>
<b class="c r" style="width:54.1px"></b>
<b class="c r" style="width:53.8px"></b>
<b class="c r" style="width:54.8px"></b>
</div>
<div class="tr" style="top:96.45px;height:16.075px">
<b class="c ck" style="width:17.2px"><u></u></b>
<b class="c l" style="width:87.5px"></b>
<b class="c m" style="width:54.2px"></b>
<b class="c r" style="width:54.1px"></b>
<b class="c r" style="width:53.8px"></b>
<b class="c r" style="width:54.8px"></b>
</div>
<div class="tr" style="top:112.52px;height:16.075px">
<b class="c ck" style="width:17.2px"><u></u></b>
<b class="c l" style="width:87.5px"></b>
<b class="c m" style="width:54.2px"></b>
<b class="c r" style="width:54.1px"></b>
<b class="c r" style="width:53.8px"></b>
<b class="c r" style="width:54.8px"></b>
</div>
<div class="tr" style="top:128.6px;height:16.075px">
<b class="c ck" style="width:17.2px"><u></u></b>
<b class="c l" style="width:87.5px"></b>
<b class="c m" style="width:54.2px"></b>
<b class="c r" style="width:54.1px"></b>
<b class="c r" style="width:53.8px"></b>
<b class="c r" style="width:54.8px"></b>
</div>
<div class="tr" style="top:144.67px;height:16.075px">
<b class="c ck" style="width:17.2px"><u></u></b>
<b class="c l" style="width:87.5px"></b>
<b class="c m" style="width:54.2px"></b>
<b class="c r" style="width:54.1px"></b>
<b class="c r" style="width:53.8px"></b>
<b class="c r" style="width:54.8px"></b>
</div>
<div class="tr" style="top:160.75px;height:16.075px">
<b class="c ck" style="width:17.2px"><u></u></b>
<b class="c l" style="width:87.5px"></b>
<b class="c m" style="width:54.2px"></b>
<b class="c r" style="width:54.1px"></b>
<b class="c r" style="width:53.8px"></b>
<b class="c r" style="width:54.8px"></b>
</div>
<div class="tr" style="top:176.82px;height:16.075px">
<b class="c ck" style="width:17.2px"><u></u></b>
<b class="c l" style="width:87.5px"></b>
<b class="c m" style="width:54.2px"></b>
<b class="c r" style="width:54.1px"></b>
<b class="c r" style="width:53.8px"></b>
<b class="c r" style="width:54.8px"></b>
</div>
<div class="tr" style="top:192.9px;height:16.075px">
<b class="c ck" style="width:17.2px"><u></u></b>
<b class="c l" style="width:87.5px"></b>
<b class="c m" style="width:54.2px"></b>
<b class="c r" style="width:54.1px"></b>
<b class="c r" style="width:53.8px"></b>
<b class="c r" style="width:54.8px"></b>
</div>
<div class="tr" style="top:208.97px;height:16.075px">
<b class="c ck" style="width:17.2px"><u></u></b>
<b class="c l" style="width:87.5px"></b>
<b class="c m" style="width:54.2px"></b>
<b class="c r" style="width:54.1px"></b>
<b class="c r" style="width:53.8px"></b>
<b class="c r" style="width:54.8px"></b>
</div>
<div class="tr tot" style="top:225.05px;height:16.075px">
<b class="c l tl" style="width:104.7px">TOTAL</b>
<b class="c m" style="width:54.2px"></b>
<b class="c r" style="width:54.1px">$1,400.00</b>
<b class="c r" style="width:53.8px">$900.00</b>
<b class="c r" style="width:54.8px">$500.00</b>
</div></div>
<div class="ct" style="left:432px;top:271.8px;height:16.075px">BALANCE OVERVIEW</div>
<div class="ct" style="left:767px;top:271.8px;height:16.075px">BUDGET (LEFT) VS ACTUAL (RIGHT)</div>
<div class="ct" style="left:1102px;top:271.8px;height:16.075px">SPENDING OVERVIEW</div>
<svg class="abs" style="left:0;top:0" width="1500" height="440" viewBox="0 0 1500 440" font-family="Liberation Sans, sans-serif">
<line x1="461.5" x2="733.0" y1="408.20" y2="408.20" stroke="#8a8686" stroke-width="1"/>
<text x="457.8" y="410.50" text-anchor="end" font-size="6.4" font-weight="700" fill="#3a3838">$0.00</text>
<line x1="461.5" x2="733.0" y1="386.46" y2="386.46" stroke="#dbd9d9" stroke-width="1"/>
<text x="457.8" y="388.76" text-anchor="end" font-size="6.4" font-weight="700" fill="#3a3838">$1,000.00</text>
<line x1="461.5" x2="733.0" y1="364.72" y2="364.72" stroke="#dbd9d9" stroke-width="1"/>
<text x="457.8" y="367.02" text-anchor="end" font-size="6.4" font-weight="700" fill="#3a3838">$2,000.00</text>
<line x1="461.5" x2="733.0" y1="342.98" y2="342.98" stroke="#dbd9d9" stroke-width="1"/>
<text x="457.8" y="345.28" text-anchor="end" font-size="6.4" font-weight="700" fill="#3a3838">$3,000.00</text>
<line x1="461.5" x2="733.0" y1="321.24" y2="321.24" stroke="#dbd9d9" stroke-width="1"/>
<text x="457.8" y="323.54" text-anchor="end" font-size="6.4" font-weight="700" fill="#3a3838">$4,000.00</text>
<line x1="461.5" x2="733.0" y1="299.50" y2="299.50" stroke="#dbd9d9" stroke-width="1"/>
<text x="457.8" y="301.80" text-anchor="end" font-size="6.4" font-weight="700" fill="#3a3838">$5,000.00</text>
<line x1="506.2" x2="506.2" y1="299.5" y2="408.2" stroke="#d4d2d2" stroke-width="1"/>
<text x="506.2" y="417.6" text-anchor="middle" font-size="6.4" font-weight="700" fill="#3a3838">Jul-6</text>
<line x1="569.6" x2="569.6" y1="299.5" y2="408.2" stroke="#d4d2d2" stroke-width="1"/>
<text x="569.6" y="417.6" text-anchor="middle" font-size="6.4" font-weight="700" fill="#3a3838">Jul-13</text>
<line x1="633.0" x2="633.0" y1="299.5" y2="408.2" stroke="#d4d2d2" stroke-width="1"/>
<text x="633.0" y="417.6" text-anchor="middle" font-size="6.4" font-weight="700" fill="#3a3838">Jul-20</text>
<line x1="696.6" x2="696.6" y1="299.5" y2="408.2" stroke="#d4d2d2" stroke-width="1"/>
<text x="696.6" y="417.6" text-anchor="middle" font-size="6.4" font-weight="700" fill="#3a3838">Jul-27</text>
<polygon points="462.0,408.2 462.0,338.71 471.06,338.05 480.13,340.25 489.19,340.25 498.26,340.25 507.32,342.01 516.38,343.55 525.45,349.05 534.51,361.15 543.58,353.01 552.64,353.01 561.7,360.49 570.77,360.05 579.83,360.49 588.9,303.94 597.96,303.5 607.02,306.14 616.09,306.14 625.15,310.76 634.22,312.08 643.28,311.86 652.34,316.93 661.41,317.37 670.47,324.85 679.54,331.67 688.6,334.97 697.66,334.75 706.73,336.51 715.79,356.53 724.86,347.95 733.92,347.95 733.92,408.2" fill="#e4a9a2" fill-opacity="0.5"/>
<polyline points="462.0,338.71 471.06,338.05 480.13,340.25 489.19,340.25 498.26,340.25 507.32,342.01 516.38,343.55 525.45,349.05 534.51,361.15 543.58,353.01 552.64,353.01 561.7,360.49 570.77,360.05 579.83,360.49 588.9,303.94 597.96,303.5 607.02,306.14 616.09,306.14 625.15,310.76 634.22,312.08 643.28,311.86 652.34,316.93 661.41,317.37 670.47,324.85 679.54,331.67 688.6,334.97 697.66,334.75 706.73,336.51 715.79,356.53 724.86,347.95 733.92,347.95" fill="none" stroke="#db9e99" stroke-width="1.2" stroke-linejoin="round"/>
<circle cx="462.0" cy="338.71" r="1.6" fill="#db9b96"/>
<circle cx="471.06" cy="338.05" r="1.6" fill="#db9b96"/>
<circle cx="480.13" cy="340.25" r="1.6" fill="#db9b96"/>
<circle cx="489.19" cy="340.25" r="1.6" fill="#db9b96"/>
<circle cx="498.26" cy="340.25" r="1.6" fill="#db9b96"/>
<circle cx="507.32" cy="342.01" r="1.6" fill="#db9b96"/>
<circle cx="516.38" cy="343.55" r="1.6" fill="#db9b96"/>
<circle cx="525.45" cy="349.05" r="1.6" fill="#db9b96"/>
<circle cx="534.51" cy="361.15" r="1.6" fill="#db9b96"/>
<circle cx="543.58" cy="353.01" r="1.6" fill="#db9b96"/>
<circle cx="552.64" cy="353.01" r="1.6" fill="#db9b96"/>
<circle cx="561.7" cy="360.49" r="1.6" fill="#db9b96"/>
<circle cx="570.77" cy="360.05" r="1.6" fill="#db9b96"/>
<circle cx="579.83" cy="360.49" r="1.6" fill="#db9b96"/>
<circle cx="588.9" cy="303.94" r="1.6" fill="#db9b96"/>
<circle cx="597.96" cy="303.5" r="1.6" fill="#db9b96"/>
<circle cx="607.02" cy="306.14" r="1.6" fill="#db9b96"/>
<circle cx="616.09" cy="306.14" r="1.6" fill="#db9b96"/>
<circle cx="625.15" cy="310.76" r="1.6" fill="#db9b96"/>
<circle cx="634.22" cy="312.08" r="1.6" fill="#db9b96"/>
<circle cx="643.28" cy="311.86" r="1.6" fill="#db9b96"/>
<circle cx="652.34" cy="316.93" r="1.6" fill="#db9b96"/>
<circle cx="661.41" cy="317.37" r="1.6" fill="#db9b96"/>
<circle cx="670.47" cy="324.85" r="1.6" fill="#db9b96"/>
<circle cx="679.54" cy="331.67" r="1.6" fill="#db9b96"/>
<circle cx="688.6" cy="334.97" r="1.6" fill="#db9b96"/>
<circle cx="697.66" cy="334.75" r="1.6" fill="#db9b96"/>
<circle cx="706.73" cy="336.51" r="1.6" fill="#db9b96"/>
<circle cx="715.79" cy="356.53" r="1.6" fill="#db9b96"/>
<circle cx="724.86" cy="347.95" r="1.6" fill="#db9b96"/>
<circle cx="733.92" cy="347.95" r="1.6" fill="#db9b96"/>
<line x1="800.0" x2="1068.5" y1="408.20" y2="408.20" stroke="#7c7878" stroke-width="1"/>
<text x="796.8" y="410.50" text-anchor="end" font-size="6.4" font-weight="700" fill="#3a3838">$0.00</text>
<line x1="800.0" x2="1068.5" y1="394.61" y2="394.61" stroke="#efeeee" stroke-width="1"/>
<line x1="800.0" x2="1068.5" y1="381.02" y2="381.02" stroke="#dddbdb" stroke-width="1"/>
<text x="796.8" y="383.32" text-anchor="end" font-size="6.4" font-weight="700" fill="#3a3838">$500.00</text>
<line x1="800.0" x2="1068.5" y1="367.44" y2="367.44" stroke="#efeeee" stroke-width="1"/>
<line x1="800.0" x2="1068.5" y1="353.85" y2="353.85" stroke="#dddbdb" stroke-width="1"/>
<text x="796.8" y="356.15" text-anchor="end" font-size="6.4" font-weight="700" fill="#3a3838">$1,000.00</text>
<line x1="800.0" x2="1068.5" y1="340.26" y2="340.26" stroke="#efeeee" stroke-width="1"/>
<line x1="800.0" x2="1068.5" y1="326.68" y2="326.68" stroke="#dddbdb" stroke-width="1"/>
<text x="796.8" y="328.98" text-anchor="end" font-size="6.4" font-weight="700" fill="#3a3838">$1,500.00</text>
<line x1="800.0" x2="1068.5" y1="313.09" y2="313.09" stroke="#efeeee" stroke-width="1"/>
<line x1="800.0" x2="1068.5" y1="299.50" y2="299.50" stroke="#dddbdb" stroke-width="1"/>
<text x="796.8" y="301.80" text-anchor="end" font-size="6.4" font-weight="700" fill="#3a3838">$2,000.00</text>
<rect x="818.8" y="370.15" width="13.9" height="37.54" fill="#f3cfc2"/>
<rect x="835.2" y="375.05" width="13.9" height="32.65" fill="#dda39e"/>
<text x="834.0" y="417.2" text-anchor="middle" font-size="6.15" font-weight="700" fill="#3a3838">Bills</text>
<rect x="869.0" y="389.72" width="13.9" height="17.98" fill="#f3cfc2"/>
<rect x="885.4" y="391.35" width="13.9" height="16.35" fill="#dda39e"/>
<text x="884.2" y="417.2" text-anchor="middle" font-size="6.15" font-weight="700" fill="#3a3838">Subscriptions</text>
<rect x="918.9" y="313.09" width="13.9" height="94.61" fill="#f3cfc2"/>
<rect x="935.3" y="315.26" width="13.9" height="92.44" fill="#dda39e"/>
<text x="934.1" y="417.2" text-anchor="middle" font-size="6.15" font-weight="700" fill="#3a3838">Expenses</text>
<rect x="969.5" y="315.81" width="13.9" height="91.89" fill="#f3cfc2"/>
<rect x="985.9" y="353.85" width="13.9" height="53.85" fill="#dda39e"/>
<text x="984.7" y="417.2" text-anchor="middle" font-size="6.15" font-weight="700" fill="#3a3838">Savings</text>
<rect x="1019.7" y="332.11" width="13.9" height="75.59" fill="#f3cfc2"/>
<rect x="1036.1" y="359.28" width="13.9" height="48.41" fill="#dda39e"/>
<text x="1034.9" y="417.2" text-anchor="middle" font-size="6.15" font-weight="700" fill="#3a3838">Debt</text>
<path d="M1252.8,355.3 L1252.80,295.60 A59.7,59.7 0 0 1 1297.50,315.72 Z" fill="#f3d0c4" stroke="#f3d0c4" stroke-width="0.4"/>
<path d="M1252.8,355.3 L1297.50,315.72 A59.7,59.7 0 0 1 1309.93,337.96 Z" fill="#dfa9a3" stroke="#dfa9a3" stroke-width="0.4"/>
<path d="M1252.8,355.3 L1309.93,337.96 A59.7,59.7 0 0 1 1223.85,407.51 Z" fill="#d29795" stroke="#d29795" stroke-width="0.4"/>
<path d="M1252.8,355.3 L1223.85,407.51 A59.7,59.7 0 0 1 1196.18,336.38 Z" fill="#c08180" stroke="#c08180" stroke-width="0.4"/>
<path d="M1252.8,355.3 L1196.18,336.38 A59.7,59.7 0 0 1 1252.80,295.60 Z" fill="#a96f6d" stroke="#a96f6d" stroke-width="0.4"/>
<line x1="1383.7" x2="1275.9" y1="304.2" y2="304.2" stroke="#6f6b6b" stroke-width="0.9"/>
<text x="1383.7" y="302.2" text-anchor="end" font-size="6.05" font-weight="700" fill="#2e2c2c">Bills</text>
<text x="1383.7" y="310.8" text-anchor="end" font-size="6" fill="#a19e9e">13.5%</text>
<line x1="1383.7" x2="1302.3" y1="328.4" y2="328.4" stroke="#6f6b6b" stroke-width="0.9"/>
<text x="1383.7" y="326.4" text-anchor="end" font-size="6.05" font-weight="700" fill="#2e2c2c">Subscriptions</text>
<text x="1383.7" y="335.0" text-anchor="end" font-size="6" fill="#a19e9e">6.8%</text>
<line x1="1383.7" x2="1292.4" y1="400.3" y2="400.3" stroke="#6f6b6b" stroke-width="0.9"/>
<text x="1383.7" y="398.3" text-anchor="end" font-size="6.05" font-weight="700" fill="#2e2c2c">Expenses</text>
<text x="1383.7" y="406.9" text-anchor="end" font-size="6" fill="#a19e9e">37.7%</text>
<line x1="1121.9" x2="1219.8" y1="309.7" y2="309.7" stroke="#6f6b6b" stroke-width="0.9"/>
<text x="1121.9" y="307.7" text-anchor="start" font-size="6.05" font-weight="700" fill="#2e2c2c">Debt</text>
<text x="1121.9" y="316.3" text-anchor="start" font-size="6" fill="#a19e9e">19.9%</text>
<line x1="1121.9" x2="1195.6" y1="376.8" y2="376.8" stroke="#6f6b6b" stroke-width="0.9"/>
<text x="1121.9" y="374.8" text-anchor="start" font-size="6.05" font-weight="700" fill="#2e2c2c">Savings</text>
<text x="1121.9" y="383.4" text-anchor="start" font-size="6" fill="#a19e9e">22.1%</text>
</svg>
<div class="abs" style="left:567.4px;top:992.4px;width:23px;height:23px"><svg width="23" height="23" viewBox="0 0 23 23" fill="none" stroke="#2a2829" stroke-width="1.65" stroke-linecap="round" stroke-linejoin="round"><path d="M15.9 2.3 A10.2 10.2 0 1 0 21.65 12.3"/><path d="M6.9 10.7 L10.8 14.9 L21.3 4.0"/></svg></div>
<div class="foot" style="left:600.0px;top:989.9px;letter-spacing:0.46px">Start easily in a few simple steps</div>
<div class="abs" style="left:431.0px;top:1040.4px;width:23px;height:23px"><svg width="23" height="23" viewBox="0 0 23 23" fill="none" stroke="#2a2829" stroke-width="1.65" stroke-linecap="round" stroke-linejoin="round"><path d="M15.9 2.3 A10.2 10.2 0 1 0 21.65 12.3"/><path d="M6.9 10.7 L10.8 14.9 L21.3 4.0"/></svg></div>
<div class="foot" style="left:465.6px;top:1037.9px;letter-spacing:0.75px">Automatic transactions tracker connected with all budgets</div>
<div class="abs" style="left:334.4px;top:1089.0px;width:23px;height:23px"><svg width="23" height="23" viewBox="0 0 23 23" fill="none" stroke="#2a2829" stroke-width="1.65" stroke-linecap="round" stroke-linejoin="round"><path d="M15.9 2.3 A10.2 10.2 0 1 0 21.65 12.3"/><path d="M6.9 10.7 L10.8 14.9 L21.3 4.0"/></svg></div>
<div class="foot" style="left:366.0px;top:1085.9px;letter-spacing:0.53px">Pre-made calculations &amp; charts for an easy overview of your financial situation</div>
<div class="band"></div>
</body></html>
